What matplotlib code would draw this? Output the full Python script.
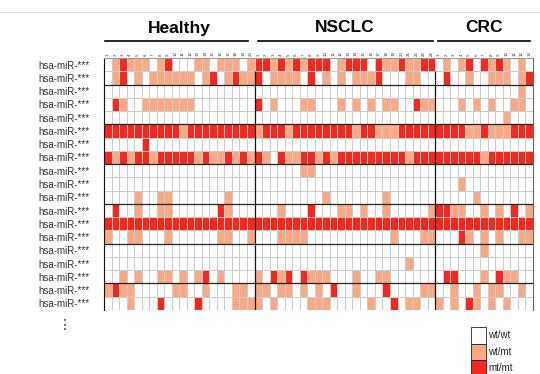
import numpy as np
import matplotlib
matplotlib.use("Agg")
import matplotlib.pyplot as plt
from matplotlib.colors import ListedColormap
from matplotlib.patches import Rectangle
from matplotlib.lines import Line2D
import matplotlib.transforms as mtransforms

plt.rcParams['font.family'] = ['Liberation Sans', 'DejaVu Sans']

# genotype per miRNA row: 0 = wt/wt, 1 = wt/mt, 2 = mt/mt
healthy = [
    "01211101200011011101",
    "01201011111101201211",
    "00000000000000000000",
    "02100111111100000000",
    "00000000000000000000",
    "22222222221222222222",
    "00000200000000000000",
    "21212212222212112121",
    "00000000000000000000",
    "00000000000000000000",
    "00001001100000001000",
    "02001001100000021000",
    "22222222222222222222",
    "10011000100000011001",
    "00000000000000000000",
    "00000000000000000000",
    "00101001101012010000",
    "12110000011001000110",
    "00010002000020000111",
]
nsclc = [
    "221212122201222021121122",
    "201111020101011120001100",
    "000000000000000000000000",
    "201000110001010101100211",
    "000000000000000000000000",
    "122212222222212211122222",
    "000000000000000000000000",
    "210211221212222222221222",
    "000000110000000000000000",
    "000000000000000000000000",
    "000000000100000001000000",
    "000100020001101001000001",
    "222222222222222222222222",
    "000111100000000000100011",
    "000000000000000000000000",
    "000000000000000000001000",
    "102120211100010011000000",
    "110110101020010002000011",
    "101000011100000100201100",
]
crc = [
    "0101202121010",
    "0200100111012",
    "0000000000010",
    "0001010100110",
    "0000000001000",
    "2222112111222",
    "0000000000000",
    "2222221222222",
    "0000000000000",
    "0001000000000",
    "0000010000000",
    "2211001010201",
    "2222222222222",
    "0002101010011",
    "0000001000000",
    "0000000000000",
    "0220001021100",
    "0010010110010",
    "1010210101000",
]
groups = ["Healthy", "NSCLC", "CRC"]
legend_labels = ["wt/wt", "wt/mt", "mt/mt"]
row_label = "hsa-miR-***"
colors = ["#ffffff", "#fba985", "#f8271d"]


def to_arr(rows):
    return np.array([[int(c) for c in r] for r in rows])


blocks = [to_arr(healthy), to_arr(nsclc), to_arr(crc)]
data = np.hstack(blocks)
nrow, ncol = data.shape
sizes = [b.shape[1] for b in blocks]
bounds = np.concatenate([[0], np.cumsum(sizes)])

W, H = 540, 374
fig = plt.figure(figsize=(W / 100, H / 100), dpi=100)
ax = fig.add_axes([104 / W, 1 - 310 / H, 429 / W, 252 / H])

cmap = ListedColormap(colors)
ax.pcolormesh(np.arange(ncol + 1), np.arange(nrow + 1), data, cmap=cmap,
              vmin=-0.5, vmax=2.5, edgecolors="#cccccc", linewidth=0.5)
ax.set_xlim(0, ncol)
ax.set_ylim(nrow, 0)

# block separators
for r in [2, 5, 8, 11, 14, 17]:
    ax.axhline(r, color="#222222", lw=0.9)
ax.vlines(bounds[1:-1], 1, nrow, color="#111111", lw=0.9)

for s in ["bottom"]:
    ax.spines[s].set_visible(False)
ax.spines["left"].set_color("#111111")
ax.spines["top"].set_color("#999999")
ax.spines["right"].set_color("#666666")
for s in ["left", "top", "right"]:
    ax.spines[s].set_linewidth(0.8)

ax.set_yticks(np.arange(nrow) + 0.5)
ax.set_yticklabels([row_label] * nrow, fontsize=7, color="#333333")
ax.tick_params(axis="y", length=0, pad=10.5)

xt, xl = [], []
for g, n in enumerate(sizes):
    for i in range(n):
        xt.append(bounds[g] + i + 0.5)
        xl.append(str(i + 1))
ax.xaxis.tick_top()
ax.set_xticks(xt)
ax.set_xticklabels(xl, fontsize=3.2, rotation=90, color="#333333")
ax.tick_params(axis="x", length=0, pad=1.5)

# group headers and underlines
blend = mtransforms.blended_transform_factory(ax.transData, fig.transFigure)
for g, name in enumerate(groups):
    cx = (bounds[g] + bounds[g + 1]) / 2
    ax.text(cx, 1 - 28 / H, name, transform=blend, ha="center", va="center",
            fontsize=12.5, fontweight="bold", clip_on=False)
    x0 = bounds[g] + (0.15 if g == 0 else 0.4)
    x1 = bounds[g + 1] - (0.9 if g == 0 else 0.35)
    ax.add_line(Line2D([x0, x1], [1 - 41 / H] * 2, transform=blend,
                       color="black", lw=1.2, clip_on=False))

# thin rule across the top
fig.add_artist(Line2D([0, 1], [1 - 12 / H] * 2, color="#dddddd", lw=0.8))

# vertical ellipsis under the labels
fig.text(65 / W, 1 - 325 / H, "\u22ee", fontsize=10, ha="center", va="center",
         color="#333333")

# legend
for i, (lab, col) in enumerate(zip(legend_labels, colors)):
    y_top = 327 + i * 16.6
    fig.add_artist(Rectangle((471 / W, 1 - (y_top + 16.6) / H), 15 / W, 16.6 / H,
                             transform=fig.transFigure, facecolor=col,
                             edgecolor="#222222", lw=0.6))
    fig.text(488 / W, 1 - (y_top + 8) / H, lab, fontsize=7, ha="left",
             va="center", color="#222222")

fig.savefig("out.png", dpi=100)
